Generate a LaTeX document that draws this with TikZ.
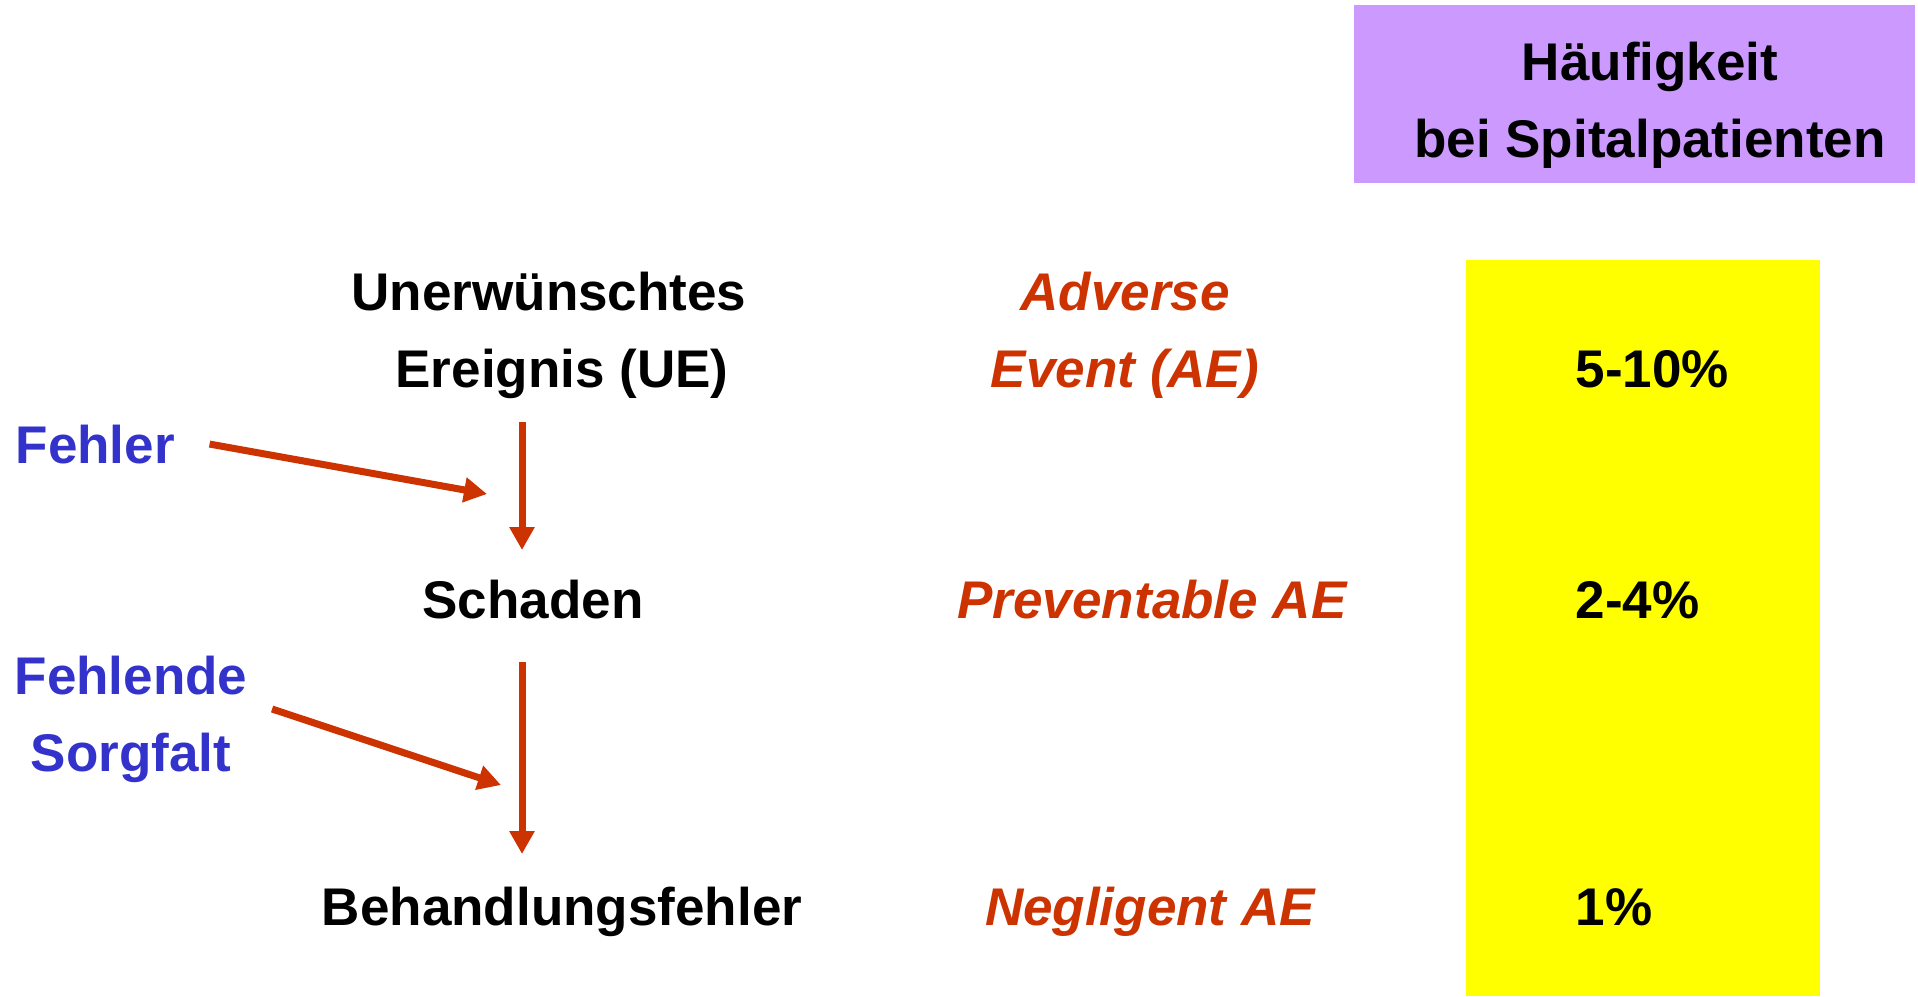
\documentclass[tikz,border=0pt]{standalone}
\usepackage{fontspec}
\setmainfont{Liberation Sans}
\usepackage{tikz}
\usetikzlibrary{arrows.meta, positioning}

\definecolor{rotton}{HTML}{CC3300}
\definecolor{blauton}{HTML}{3333CC}
\definecolor{lila}{HTML}{CC99FF}
\definecolor{gelb}{HTML}{FFFF00}
\newcommand{\gross}{\fontsize{15.08pt}{21.8pt}\selectfont\bfseries}

\begin{document}
\begin{tikzpicture}[x=0.01cm, y=-0.01cm, >={Triangle[length=0.23cm, width=0.24cm]},
  every node/.style={font=\gross, inner sep=0pt},
  begriff/.style={anchor=base, align=center},
  englisch/.style={anchor=base, align=center, text=rotton, font=\gross\itshape},
  ursache/.style={anchor=base, align=center, text=blauton},
  wert/.style={anchor=base west},
  pfeil/.style={->, draw=rotton, line width=0.07cm}]
  \fill[white] (0,0) rectangle (1918,996);
  \useasboundingbox (0,0) rectangle (1918,996);
  % Kopf und Spalte rechts
  \fill[lila] (1354,5) rectangle (1915,183);
  \fill[gelb] (1466,260) rectangle (1820,996);
  \node[begriff] (kopf) at (1650,157) {Häufigkeit\\bei Spitalpatienten};
  % Begriffe
  \node[begriff] (ue) at (549,387) {Unerwünschtes\\\hspace*{0.26cm}Ereignis (UE)};
  \node[begriff] (schaden) at (533,618) {Schaden};
  \node[begriff] (bf) at (562,925) {Behandlungsfehler};
  \node[englisch] (ae) at (1125,387) {Adverse\\Event (AE)};
  \node[englisch] (pae) at (1152,618) {Preventable AE};
  \node[englisch] (nae) at (1150,925) {Negligent AE};
  \node[wert] (w1) at (1575,387) {5-10\%};
  \node[wert] (w2) at (1575,618) {2-4\%};
  \node[wert] (w3) at (1575,925) {1\%};
  \node[ursache, anchor=base west] (fehler) at (15,463) {Fehler};
  \node[ursache] (sorgfalt) at (131,771) {Fehlende\\Sorgfalt};
  % Pfeile
  \coordinate (p1) at (522,422);
  \coordinate (p2) at (522,550);
  \coordinate (p3) at (522,662);
  \coordinate (p4) at (522,854);
  \coordinate (f1) at (487,494);
  \coordinate (f2) at (501,785);
  \draw[pfeil] (p1) -- (p2);
  \draw[pfeil] (p3) -- (p4);
  \draw[pfeil] ([xshift=0.34cm]fehler.east) -- (f1);
  \draw[pfeil] ([xshift=0.24cm]sorgfalt.east |- 0,709) -- (f2);
\end{tikzpicture}
\end{document}
